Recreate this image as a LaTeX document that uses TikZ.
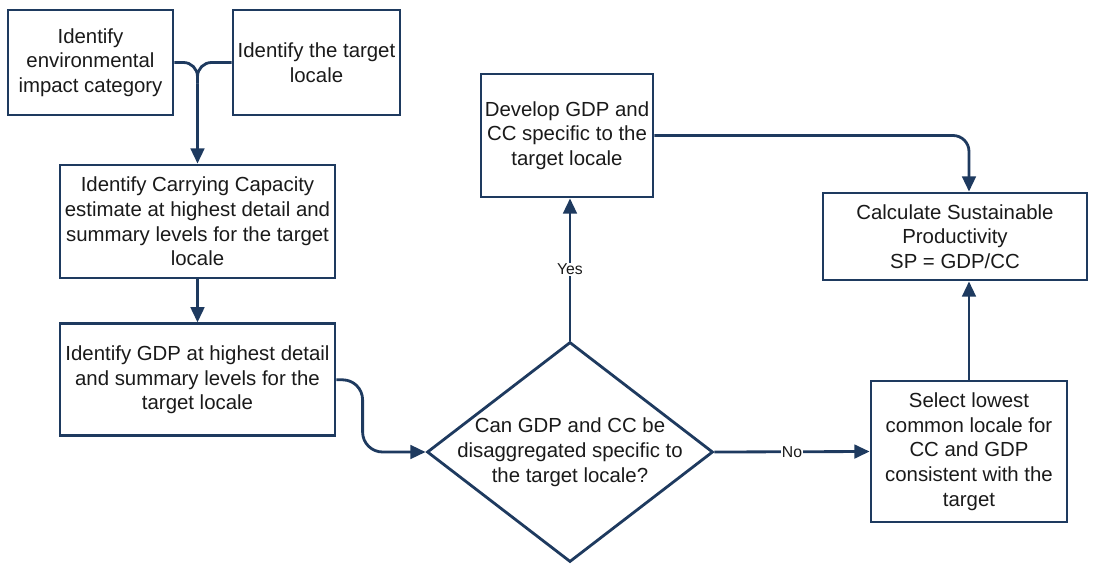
\documentclass[tikz,border=0pt]{standalone}
\usepackage{fontspec}
\setmainfont{Liberation Sans}
\usepackage{tikz}
\usetikzlibrary{shapes.geometric, arrows.meta, positioning, calc}
\definecolor{flow-navy}{HTML}{1E3A5F}
\definecolor{flow-text}{HTML}{1A1A1A}

\begin{document}
\begin{tikzpicture}[
    >={Triangle[length=3.8mm, width=3.4mm]},
    boxfont/.style={text=flow-text, align=center, font=\fontsize{14.5}{17.6}\selectfont},
    box/.style={draw=flow-navy, line width=2pt, fill=white, inner sep=0pt, boxfont},
    decision/.style={draw=flow-navy, line width=2pt, fill=white, diamond, inner sep=0pt},
    link/.style={draw=flow-navy, line width=2pt},
    tag/.style={fill=white, text=flow-text, inner sep=1pt, font=\fontsize{11.2}{13}\selectfont}
]
    \useasboundingbox (0,0) rectangle (27.7,-14.075);

    \node (env) [box, minimum width=4.125cm, minimum height=2.625cm] at (2.2625,-1.5625) {Identify\\environmental\\impact category};
    \node (target) [box, minimum width=4.175cm, minimum height=2.625cm] at (7.9125,-1.5625) {Identify the target\\locale};
    \node (carry) [box, minimum width=6.875cm, minimum height=2.825cm] at (4.9375,-5.5375) {Identify Carrying Capacity\\estimate at highest detail and\\summary levels for the target\\locale};
    \node (gdp) [box, minimum width=6.875cm, minimum height=2.8cm, below=1.075cm of carry] {Identify GDP at highest detail\\and summary levels for the\\target locale};

    \node (split) [decision, minimum width=7.15cm, minimum height=5.5cm,
        label={[name=splittext, boxfont]center:Can GDP and CC be\\disaggregated specific to\\the target locale?}] at (14.25,-11.3) {};
    \node (develop) [box, minimum width=4.3cm, minimum height=3.075cm] at (14.175,-3.3875) {Develop GDP and\\CC specific to the\\target locale};
    \node (calc) [box, minimum width=6.6cm, minimum height=2.175cm] at (23.875,-5.9125) {Calculate Sustainable\\Productivity\\SP = GDP/CC};
    \node (select) [box, minimum width=4.9cm, minimum height=3.525cm] at (24.225,-11.2875) {Select lowest\\common locale for\\CC and GDP\\consistent with the\\target};

    \coordinate (join) at ($(carry.north)+(0,2.0)$);
    \draw [link, rounded corners=0.35cm] (env.east) -| (join);
    \draw [link, rounded corners=0.35cm] (target.west) -| (join);
    \draw [link, ->] (join) -- (carry.north);
    \draw [link, ->] (carry) -- (gdp);
    \draw [link, ->, rounded corners=0.5cm] (gdp.east) -| ([xshift=-1.575cm]split.west) -- (split.west);
    \draw [link, ->] (split.north) -- node[tag] {Yes} (split.north |- develop.south);
    \draw [link, ->] (split.east) -- node[tag] {No} (select.west);
    \draw [link, ->, rounded corners=0.4cm] (develop.east) -| (select.north |- calc.north);
    \draw [link, ->] (select.north) -- (select.north |- calc.south);
\end{tikzpicture}
\end{document}
